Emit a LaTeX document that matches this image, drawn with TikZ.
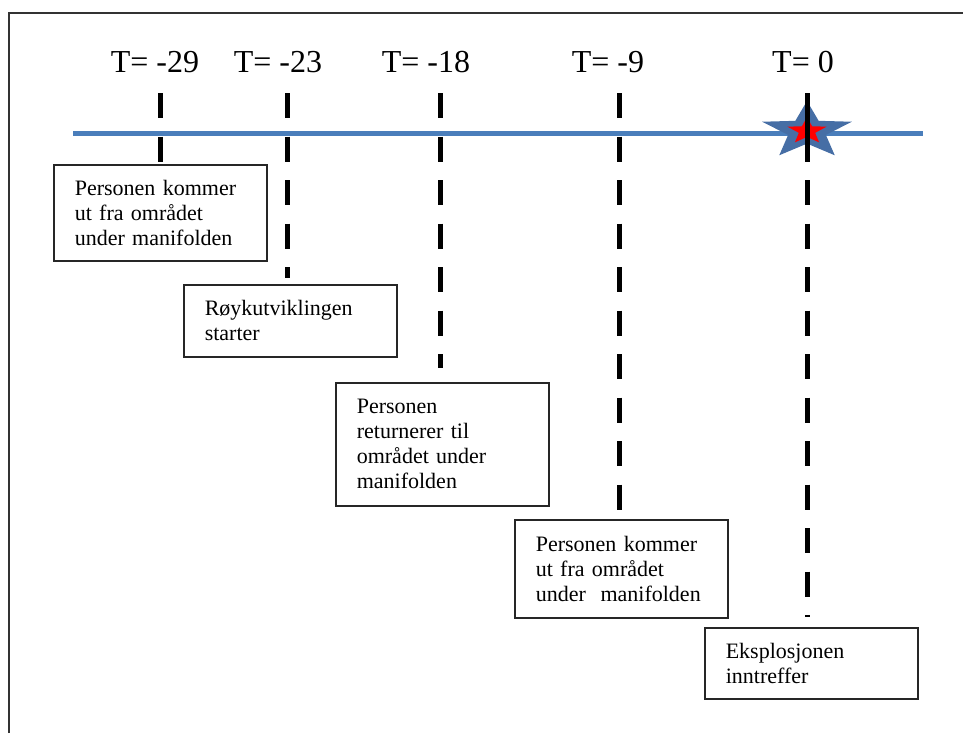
\documentclass[tikz,border=0pt]{standalone}
\usepackage{fontspec}
\setmainfont{Liberation Serif}
\definecolor{lineblue}{RGB}{74,126,187}
\definecolor{starblue}{RGB}{70,110,165}
\definecolor{starred}{RGB}{255,0,0}
\tikzset{
  tlabel/.style={anchor=base, inner sep=0pt, font=\fontsize{24}{28}\selectfont},
  evbox/.style={draw=black!85, line width=1.2pt, fill=white, anchor=north west,
    minimum width=159.75pt, text width=128.25pt, inner xsep=15.75pt, inner ysep=0pt,
    align=left, font=\fontsize{16.5}{18.75}\selectfont},
  tick/.style={line width=3.75pt, black, dash pattern=on 18.75pt off 13.875pt},
  timeline/.style={line width=3.75pt, lineblue},
  frameline/.style={line width=1.5pt, black!80}
}
\begin{document}
\begin{tikzpicture}[x=0.75pt, y=-0.75pt]
\useasboundingbox (0,0) rectangle (965,733);
% outer frame
\coordinate (fbl) at (8.5,733);
\coordinate (ftl) at (8.5,12.5);
\coordinate (ftr) at (963,12.5);
\draw[frameline] (fbl) -- (ftl) -- (ftr);
% time labels
\node[tlabel] (l1) at (155,72) {T= -29};
\node[tlabel] (l2) at (278,72) {T= -23};
\node[tlabel] (l3) at (426,72) {T= -18};
\node[tlabel] (l4) at (608,72) {T= -9};
\node[tlabel] (l5) at (803,72) {T= 0};
% event boxes
\node[evbox, minimum height=72pt] (b1) at (53,164) {Personen kommer\\ut fra området\\under manifolden};
\node[evbox, minimum height=54pt] (b2) at (183,284) {Røykutviklingen\\starter};
\node[evbox, minimum height=92.25pt] (b3) at (335,382) {Personen\\returnerer til\\området under\\manifolden};
\node[evbox, minimum height=73.5pt] (b4) at (514,519) {Personen kommer\\ut fra området\\under\ \ manifolden};
\node[evbox, minimum height=53.25pt] (b5) at (704,627) {Eksplosjonen\\inntreffer};
% tick top ends
\coordinate (d1) at (160,93);
\coordinate (d2) at (287,93);
\coordinate (d3) at (440,93);
\coordinate (d4) at (619,93);
\coordinate (d5) at (807,93);
% dashed ticks
\draw[tick, shorten >=1.5pt] (d1) -- (d1 |- b1.north);
\draw[tick, shorten >=4.5pt] (d2) -- (d2 |- b2.north);
\draw[tick, shorten >=10.5pt] (d3) -- (d3 |- b3.north);
\draw[tick, shorten >=6.75pt] (d4) -- (d4 |- b4.north);
\draw[tick, shorten >=7.5pt] (d5) -- (d5 |- b5.north);
% time line
\coordinate (ta) at (73,133);
\coordinate (tb) at (923,133);
\draw[timeline] (ta) -- (tb);
% star
\coordinate (sc) at (807,131);
\begin{scope}[shift={(sc)}, x=35.4pt, y=22.5pt]
\fill[starblue] (90:1) -- (126:0.42) -- (162:1) -- (198:0.42) -- (234:1) -- (270:0.42) -- (306:1) -- (342:0.42) -- (18:1) -- (54:0.42) -- cycle;
\end{scope}
\begin{scope}[shift={(sc)}, x=15.4pt, y=10.5pt]
\fill[starred] (90:1) -- (126:0.42) -- (162:1) -- (198:0.42) -- (234:1) -- (270:0.42) -- (306:1) -- (342:0.42) -- (18:1) -- (54:0.42) -- cycle;
\end{scope}
\coordinate (s5) at (807,161.5);
\draw[line width=3.75pt, black] (d5) -- (s5);
\end{tikzpicture}
\end{document}
